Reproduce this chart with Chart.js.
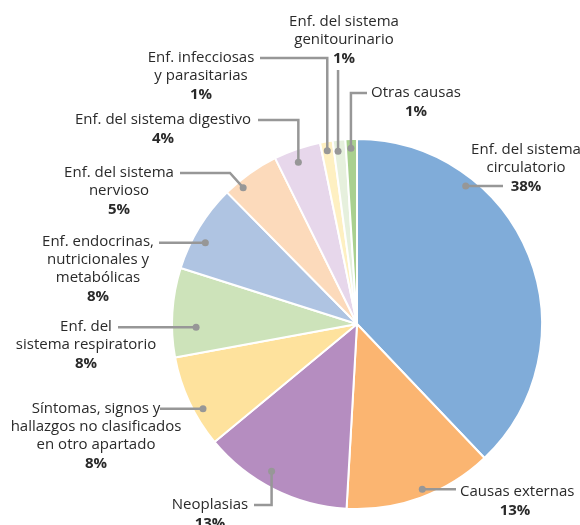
<!DOCTYPE html>
<html>
<head>
<meta charset="utf-8">
<script src="https://cdn.jsdelivr.net/npm/chart.js@4"></script>
<style>
  html, body { margin: 0; padding: 0; background: #fff; }
  #wrap { width: 580px; height: 525px; position: relative; }
</style>
</head>
<body>
<div id="wrap"><canvas id="myPieChart"></canvas></div>
<script>
// categories (clockwise from the top)
const categories = [
    ["Enf. del sistema", "circulatorio"],
    ["Causas externas"],
    ["Neoplasias"],
    ["Síntomas, signos y", "hallazgos no clasificados", "en otro apartado"],
    ["Enf. del", "sistema respiratorio"],
    ["Enf. endocrinas,", "nutricionales y", "metabólicas"],
    ["Enf. del sistema", "nervioso"],
    ["Enf. del sistema digestivo"],
    ["Enf. infecciosas", "y parasitarias"],
    ["Enf. del sistema", "genitourinario"],
    ["Otras causas"],
];
// share of deaths, %
const values = [37.9, 13.0, 13.1, 8.1, 7.8, 7.7, 5.1, 4.1, 1.1, 1.1, 1.0];
const colors = [
    "#80acd9", "#fbb571", "#b58dc0", "#fee29d", "#cde3ba", "#afc4e2",
    "#fcdabb", "#e7d7eb", "#fef0c2", "#e6f0dd", "#a9d08f",
];

// where each callout sits: t = position along the slice, r = fraction of radius,
// path = leader route (null -> take the dot's coordinate), cx/cy = text block
const callouts = [
    { t: 0.28, r: 0.95, path: [[503, null]], cx: 526, cy: 150 },
    { t: 0.47, r: 0.96, path: [[456, null]], cx: 515, cy: 492, firstLeft: 460 },
    { t: 0.57, r: 0.92, path: [[null, 505], [254, 505]], cx: 210, cy: 505 },
    { t: 0.37, r: 0.95, path: [[160, null]], cx: 96, cy: 409 },
    { t: 0.33, r: 0.87, path: [[118, null]], cx: 86, cy: 327 },
    { t: 0.38, r: 0.93, path: [[159, null]], cx: 98, cy: 242 },
    { t: 0.26, r: 0.96, path: [[230, 173], [180, 173]], cx: 119, cy: 173 },
    { t: 0.43, r: 0.93, path: [[null, 120], [258, 120]], cx: 163, cy: 120 },
    { t: 0.45, r: 0.95, path: [[null, 58], [260, 58]], cx: 201, cy: 58 },
    { t: 0.33, r: 0.94, path: [[null, 70]], cx: 344, cy: 22 },
    { t: 0.45, r: 0.95, path: [[null, 93], [367, 93]], cx: 416, cy: 93 },
];

const calloutPlugin = {
    id: "callouts",
    afterDraw(chart) {
        const ctx = chart.ctx;
        const arcs = chart.getDatasetMeta(0).data;
        ctx.save();
        arcs.forEach((arc, i) => {
            const c = callouts[i];
            const a = arc.startAngle + c.t * (arc.endAngle - arc.startAngle);
            const dx = arc.x + Math.cos(a) * arc.outerRadius * c.r;
            const dy = arc.y + Math.sin(a) * arc.outerRadius * c.r;

            ctx.strokeStyle = "#979797";
            ctx.fillStyle = "#979797";
            ctx.lineWidth = 2.5;
            ctx.beginPath();
            ctx.moveTo(dx, dy);
            let px = dx, py = dy;
            c.path.forEach((p) => {
                px = p[0] === null ? px : p[0];
                py = p[1] === null ? py : p[1];
                ctx.lineTo(px, py);
            });
            ctx.stroke();
            ctx.beginPath();
            ctx.arc(dx, dy, 3.5, 0, Math.PI * 2);
            ctx.fill();

            ctx.fillStyle = "#2a2a2a";
            ctx.textBaseline = "middle";
            const lines = categories[i];
            lines.forEach((txt, k) => {
                ctx.font = "15px 'Open Sans'";
                if (c.firstLeft && k === 0) {
                    ctx.textAlign = "left";
                    ctx.fillText(txt, c.firstLeft, c.cy);
                } else {
                    ctx.textAlign = "center";
                    ctx.fillText(txt, c.cx, c.cy + k * 18);
                }
            });
            ctx.font = "bold 15px 'Open Sans'";
            ctx.textAlign = "center";
            ctx.fillText(Math.round(values[i]) + "%", c.cx, c.cy + lines.length * 18 + 1);
        });
        ctx.restore();
    },
};

document.addEventListener("DOMContentLoaded", function () {
    const ctx = document.getElementById("myPieChart");
    new Chart(ctx, {
        type: "pie",
        data: {
            labels: categories.map((l) => l.join(" ")),
            datasets: [
                {
                    data: values,
                    backgroundColor: colors,
                    borderColor: "#ffffff",
                    borderWidth: 2,
                },
            ],
        },
        options: {
            responsive: true,
            maintainAspectRatio: false,
            animation: false,
            layout: { padding: { left: 171, right: 37, top: 138, bottom: 15 } },
            plugins: {
                legend: { display: false },
                tooltip: { enabled: false },
            },
        },
        plugins: [calloutPlugin],
    });
});
</script>
</body>
</html>
